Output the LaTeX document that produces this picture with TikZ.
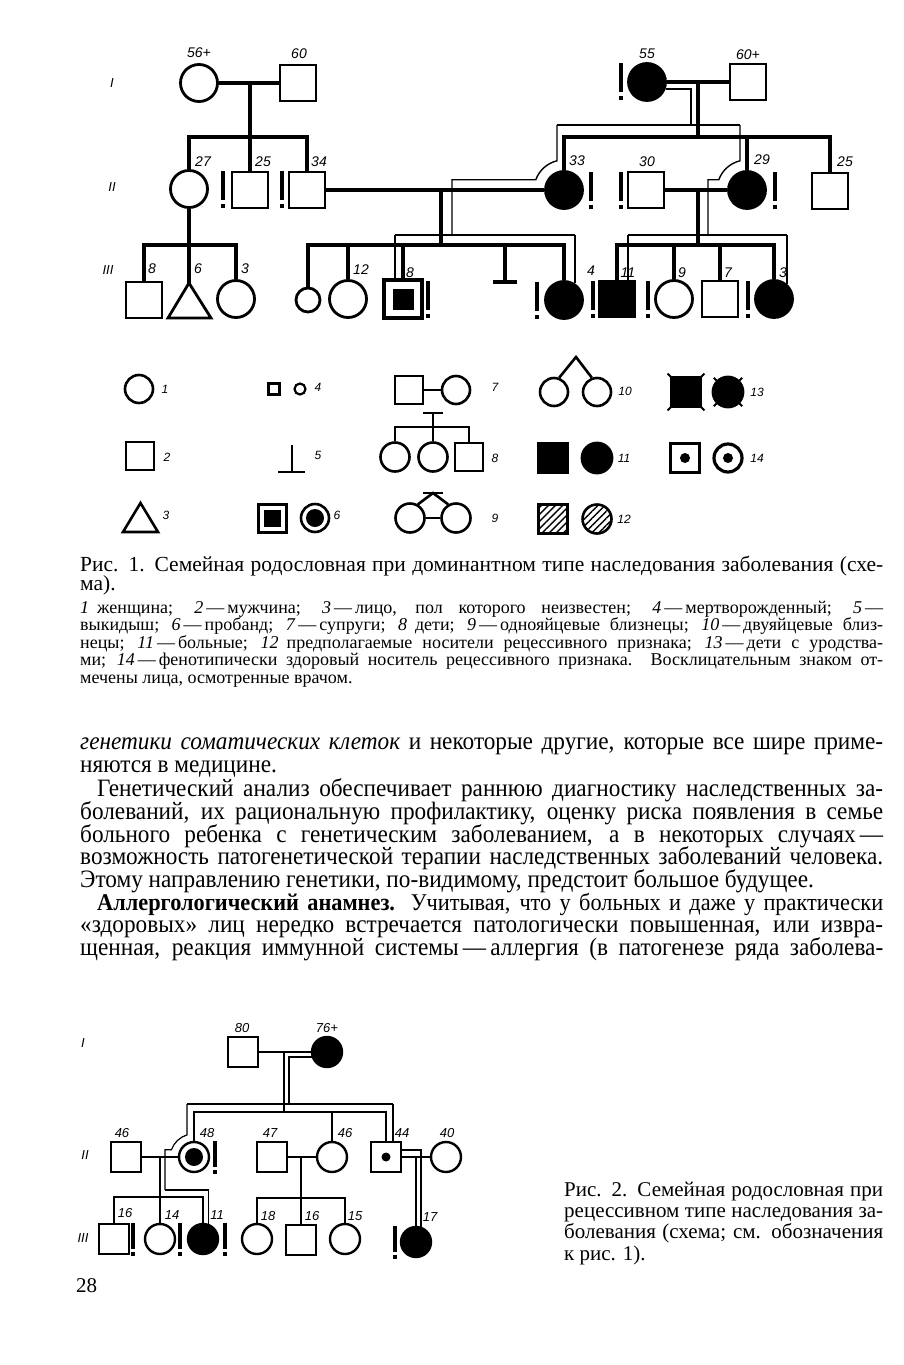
\documentclass[tikz,border=0pt]{standalone}
\usepackage{fontspec}
\setmainfont{Liberation Serif}
\newfontfamily\numfont{Liberation Sans}
\newfontfamily\bodyfont[FakeStretch=0.93]{Liberation Serif}
\usetikzlibrary{patterns.meta}

\begin{document}
\begin{tikzpicture}[x=1pt,y=-1pt,
  fem/.style={circle,draw,line width=2.8pt,minimum size=37pt,inner sep=0pt},
  mal/.style={rectangle,draw,line width=2.8pt,minimum size=36pt,inner sep=0pt},
  ill/.style={fill=black},
  blob/.style={circle,fill=black,inner sep=0pt,minimum size=#1},
  ln/.style={line width=3.4pt},
  trail/.style={line width=1.4pt},
  fem2/.style={fem,line width=2.4pt,minimum size=30pt},
  mal2/.style={mal,line width=2.4pt,minimum size=30pt},
  ln2/.style={line width=2.8pt},
  trail2/.style={line width=1.2pt},
  lfem/.style={fem,line width=2.6pt,minimum size=28pt},
  lmal/.style={mal,line width=2.6pt,minimum size=28pt},
  lln/.style={line width=2.6pt},
  hatch/.style={pattern={Lines[angle=45,distance=5pt,line width=1.4pt]}},
  num/.style={font=\numfont\itshape\fontsize{14}{14}\selectfont,inner sep=0pt},
  num2/.style={font=\numfont\itshape\fontsize{13}{13}\selectfont,inner sep=0pt},
  lnum/.style={font=\numfont\itshape\fontsize{12}{12}\selectfont,inner sep=0pt},
  gen/.style={font=\numfont\itshape\fontsize{13}{13}\selectfont,inner sep=0pt},
  bodytxt/.style={anchor=base west,inner sep=0pt,font=\bodyfont\fontsize{25}{25}\selectfont},
  capone/.style={anchor=base west,inner sep=0pt,font=\fontsize{21.5}{21.5}\selectfont},
  legtxt/.style={anchor=base west,inner sep=0pt,font=\fontsize{18}{18}\selectfont},
  captwo/.style={anchor=base west,inner sep=0pt,font=\fontsize{21}{21}\selectfont},
  excl/.pic={\draw[line width=3.2pt] (0,0) -- (0,29); \draw[line width=3.2pt] (0,33) -- (0,37);},
]
\fill[white] (0,0) rectangle (903,1365);
\useasboundingbox (0,0) rectangle (903,1365);

% Fig. 1
\node[gen] (g1) at (112,83) {I};
\node[gen] (g2) at (112,187) {II};
\node[gen] (g3) at (108,270) {III};

\node[fem] (p56) at (199,83) {};
\node[mal] (p60) at (298,83) {};
\node[fem,ill] (p55) at (647,82) {};
\node[mal] (p60b) at (748,82) {};

\node[fem] (p27) at (189,189) {};
\node[mal] (p25) at (250,190) {};
\node[mal] (p34) at (307,190) {};
\node[fem,ill] (p33) at (564,190) {};
\node[mal] (p30) at (646,190) {};
\node[fem,ill] (p29) at (747,190) {};
\node[mal] (p25b) at (830,191) {};

\node[mal] (q8) at (144,300) {};
\coordinate (q6) at (189,283);
\draw[line width=2.8pt,line join=miter] (168,318) -- (q6) -- (211,318) -- cycle;
\node[fem] (q3) at (236,299) {};
\node[fem,minimum size=24pt] (q4) at (308,300) {};
\node[fem] (q12) at (348,299) {};
\node[mal,line width=3.2pt,minimum size=38pt] (q8b) at (403,299) {};
\node[mal,ill,draw=none,minimum size=21pt] (q8c) at (403,299) {};
\coordinate (q5) at (505,282);
\node[fem,ill] (q4b) at (564,300) {};
\node[mal,ill] (q11) at (617,299) {};
\node[fem] (q9) at (674,299) {};
\node[mal] (q7) at (720,299) {};
\node[fem,ill] (q3b) at (774,299) {};

\coordinate (m1) at (250,83);
\coordinate (k1) at (250,137);
\draw[ln] (p56) -- (p60);
\draw[ln] (m1) -- (k1);
\draw[ln] (p27.north) |- (k1) -| (p34.north);
\draw[ln] (k1) -- (p25.north);

\coordinate (k2) at (189,245);
\draw[ln] (p27) -- (k2);
\draw[ln] (q8.north) |- (k2) -| (q3.north);
\draw[ln] (k2) -- (q6);

\coordinate (m2) at (441,190);
\coordinate (k3) at (441,245);
\draw[ln] (p34) -- (p33);
\draw[ln] (m2) -- (k3);
\draw[ln] (q4.north) |- (k3) -| (q4b.north);
\draw[ln] (q12.north) -- (q12.north |- k3);
\draw[ln] (q8b.north) -- (q8b.north |- k3);
\draw[ln] (q5) -- (q5 |- k3);
\draw[ln] ([xshift=-12pt]q5) -- ([xshift=12pt]q5);

\coordinate (m3) at (698,82);
\coordinate (k4) at (698,137);
\draw[ln] (p55) -- (p60b);
\draw[ln] (m3) -- (k4);
\draw[ln] (p33.north) |- (k4) -| (p25b.north);
\draw[ln] (p29.north) -- (p29.north |- k4);

\coordinate (m4) at (698,190);
\coordinate (k5) at (698,245);
\draw[ln] (p30) -- (p29);
\draw[ln] (m4) -- (k5);
\draw[ln] (q11.north) |- (k5) -| (q3b.north);
\draw[ln] (q9.north) -- (q9.north |- k5);
\draw[ln] (q7.north) -- (q7.north |- k5);

% path of the trait
\coordinate (t1) at (691,125);
\coordinate (t2) at (557,125);
\coordinate (t3) at (740,125);
\coordinate (t4) at (452,235);
\coordinate (t5) at (395,235);
\coordinate (t6) at (575,235);
\coordinate (t7) at (708,235);
\coordinate (t8) at (628,235);
\coordinate (t9) at (787,235);
\draw[trail] (p55.-20) -| (t1);
\draw[trail] (t2) -- (t3);
\draw[trail] (t2) -- ++(0,35.8) arc[start angle=-103.5,end angle=-160,radius=30] -| (t4);
\draw[trail] (t5) -- (t6);
\draw[trail] (t5) -- (t5 |- q8b.north);
\draw[trail] (t6) -- (t6 |- q4b.57);
\draw[trail] (t3) -- ++(0,35.8) arc[start angle=-103.5,end angle=-160,radius=30] -| (t7);
\draw[trail] (t8) -- (t9);
\draw[trail] (t8) -- (t8 |- q11.north);
\draw[trail] (t9) -- (t9 |- q3b.50);

\foreach \x/\y in {223/171,282/171,621/63,591/172,621/172,775/172,428/281,537/282,593/281,648/281,748/281}
  \pic at (\x,\y) {excl};

\node[num] (l56) at (199,53) {56+};
\node[num] (l60) at (299,54) {60};
\node[num] (l55) at (647,54) {55};
\node[num] (l60b) at (748,55) {60+};
\node[num] (l27) at (203,162) {27};
\node[num] (l25) at (263,162) {25};
\node[num] (l34) at (319,162) {34};
\node[num] (l33) at (577,161) {33};
\node[num] (l30) at (647,162) {30};
\node[num] (l29) at (762,160) {29};
\node[num] (l25b) at (845,162) {25};
\node[num] (lq8) at (152,269) {8};
\node[num] (lq6) at (198,269) {6};
\node[num] (lq3) at (245,269) {3};
\node[num] (lq12) at (361,270) {12};
\node[num] (lq8b) at (410,273) {8};
\node[num] (lq4) at (591,271) {4};
\node[num] (lq11) at (628,273) {11};
\node[num] (lq9) at (682,273) {9};
\node[num] (lq7) at (728,273) {7};
\node[num] (lq3b) at (783,273) {3};

% legend
\node[lfem] (a1) at (139,389) {};
\node[lnum] (n1) at (165,389) {1};
\node[mal,line width=2.2pt,minimum size=11pt] (a4s) at (274,389) {};
\node[fem,line width=2.2pt,minimum size=11pt] (a4c) at (300,389) {};
\node[lnum] (n4) at (318,387) {4};
\node[lmal] (a7s) at (409,390) {};
\node[lfem] (a7c) at (456,390) {};
\draw[lln] (a7s) -- (a7c);
\node[lnum] (n7) at (495,387) {7};
\node[lfem] (a10a) at (554,392) {};
\node[lfem] (a10b) at (597,392) {};
\coordinate (a10) at (576,357);
\draw[lln] (a10a.70) -- (a10) -- (a10b.110);
\node[lnum] (n10) at (625,391) {10};
\node[mal,ill,minimum size=30pt] (a13s) at (686,392) {};
\node[fem,ill,minimum size=30pt] (a13c) at (728,392) {};
\foreach \a in {45,135,225,315} {
  \draw[line width=2pt] (a13s.center) ++(-\a:18) -- ++(-\a:8);
  \draw[line width=2pt] (a13c.center) ++(-\a:12) -- ++(-\a:8);
}
\node[lnum] (n13) at (757,392) {13};

\node[lmal] (a2) at (140,456) {};
\node[lnum] (n2) at (167,457) {2};
\coordinate (a5) at (292,472);
\draw[lln] (a5) -- ++(0,-27);
\draw[lln] ([xshift=-14pt]a5) -- ([xshift=13pt]a5);
\node[lnum] (n5) at (318,455) {5};
\node[lfem,minimum size=29pt] (a8a) at (395,457) {};
\node[lfem,minimum size=29pt] (a8b) at (433,457) {};
\node[lmal] (a8c) at (469,457) {};
\coordinate (a8) at (433,427);
\coordinate (a8t) at (433,413);
\draw[lln] (a8a.north) |- (a8) -| (a8c.north);
\draw[lln] (a8b.north) -- (a8t);
\draw[lln] ([xshift=-10pt]a8t) -- ([xshift=10pt]a8t);
\node[lnum] (n8) at (495,458) {8};
\node[mal,ill,minimum size=30pt] (a11s) at (553,458) {};
\node[fem,ill,minimum size=30pt] (a11c) at (597,458) {};
\node[lnum] (n11) at (624,458) {11};
\node[mal,line width=2.6pt,minimum size=29pt] (a14s) at (685,458) {};
\node[blob=10pt] (a14sd) at (a14s) {};
\node[fem,line width=3.2pt,minimum size=28pt] (a14c) at (728,458) {};
\node[blob=10pt] (a14cd) at (a14c) {};
\node[lnum] (n14) at (757,458) {14};

\coordinate (a3) at (140.5,503);
\draw[lln,line join=miter] (123,532) -- (a3) -- (158,532) -- cycle;
\node[lnum] (n3) at (166,515) {3};
\node[mal,line width=3pt,minimum size=28pt] (a6s) at (272,518) {};
\node[mal,ill,draw=none,minimum size=17pt] (a6si) at (a6s) {};
\node[fem,line width=2.6pt,minimum size=28pt] (a6c) at (315,518) {};
\node[blob=18pt] (a6ci) at (a6c) {};
\node[lnum] (n6) at (337,515) {6};
\node[lfem,minimum size=29pt] (a9a) at (410,518) {};
\node[lfem,minimum size=29pt] (a9b) at (456,518) {};
\coordinate (a9) at (433,493);
\draw[lln] (a9a) -- (a9b);
\draw[lln] (a9a.60) -- (a9) -- (a9b.120);
\draw[lln] ([xshift=-10pt]a9) -- ([xshift=10pt]a9);
\node[lnum] (n9) at (495,518) {9};
\node[mal,hatch,line width=2.6pt,minimum size=29pt] (a12s) at (553,519) {};
\node[fem,hatch,line width=2.6pt,minimum size=29pt] (a12c) at (597,519) {};
\node[lnum] (n12) at (624,519) {12};

% caption 1
\node[capone] (c1a) at (80,571) {\makebox[803pt][s]{Рис. 1. Семейная родословная при доминантном типе наследования заболевания (схе-}};
\node[capone] (c1b) at (80,590) {ма).};
\node[legtxt] (c1c) at (80,613) {\makebox[803pt][s]{\textit{1}\hspace{8pt}женщина; \textit{2}\,—\,мужчина; \textit{3}\,—\,лицо, пол которого неизвестен; \textit{4}\,—\,мертворожденный; \textit{5}\,—}};
\node[legtxt] (c1d) at (80,630) {\makebox[803pt][s]{выкидыш; \textit{6}\,—\,пробанд; \textit{7}\,—\,супруги; \textit{8}\hspace{8pt}дети; \textit{9}\,—\,однояйцевые близнецы; \textit{10}\,—\,двуяйцевые близ-}};
\node[legtxt] (c1e) at (80,648) {\makebox[803pt][s]{нецы; \textit{11}\,—\,больные; \textit{12}\hspace{8pt}предполагаемые носители рецессивного признака; \textit{13}\,—\,дети с уродства-}};
\node[legtxt] (c1f) at (80,665) {\makebox[803pt][s]{ми; \textit{14}\,—\,фенотипически здоровый носитель рецессивного признака. Восклицательным знаком от-}};
\node[legtxt] (c1g) at (80,683) {мечены лица, осмотренные врачом.};

% body text
\node[bodytxt] (b1) at (80,749) {\makebox[803pt][s]{\textit{генетики соматических клеток} и некоторые другие, которые все шире приме-}};
\node[bodytxt] (b2) at (80,772) {няются в медицине.};
\node[bodytxt] (b3) at (80,796) {\makebox[803pt][s]{\hspace*{17pt}Генетический анализ обеспечивает раннюю диагностику наследственных за-}};
\node[bodytxt] (b4) at (80,819) {\makebox[803pt][s]{болеваний, их рациональную профилактику, оценку риска появления в семье}};
\node[bodytxt] (b5) at (80,842) {\makebox[803pt][s]{больного ребенка с генетическим заболеванием, а в некоторых случаях\,—}};
\node[bodytxt] (b6) at (80,864) {\makebox[803pt][s]{возможность патогенетической терапии наследственных заболеваний человека.}};
\node[bodytxt] (b7) at (80,887) {Этому направлению генетики, по-видимому, предстоит большое будущее.};
\node[bodytxt,font=\bodyfont\fontsize{24}{24}\selectfont] (b8) at (80,910) {\makebox[803pt][s]{\hspace*{17pt}\textbf{Аллергологический анамнез.} Учитывая, что у больных и даже у практически}};
\node[bodytxt] (b9) at (80,932) {\makebox[803pt][s]{«здоровых» лиц нередко встречается патологически повышенная, или извра-}};
\node[bodytxt] (b10) at (80,955) {\makebox[803pt][s]{щенная, реакция иммунной системы\,—\,аллергия (в патогенезе ряда заболева-}};

% Fig. 2
\node[gen] (h1) at (83,1043) {I};
\node[gen] (h2) at (85,1155) {II};
\node[gen] (h3) at (83,1238) {III};

\node[mal2] (r80) at (243,1052) {};
\node[fem2,ill] (r76) at (327,1052) {};
\node[mal2] (r46) at (126,1157) {};
\node[fem2] (r48) at (194,1157) {};
\node[blob=18pt] (r48i) at (r48) {};
\node[mal2] (r47) at (272,1157) {};
\node[fem2] (r46b) at (332,1157) {};
\node[mal2] (r44) at (386,1157) {};
\node[blob=9pt] (r44i) at (r44) {};
\node[fem2] (r40) at (446,1157) {};

\node[mal2] (u16) at (114,1239) {};
\node[fem2] (u14) at (160,1239) {};
\node[fem2,ill] (u11) at (203,1239) {};
\node[fem2] (u18) at (257,1239) {};
\node[mal2] (u16b) at (301,1240) {};
\node[fem2] (u15) at (345,1239) {};
\node[fem2,ill] (u17) at (416,1242) {};

\coordinate (m5) at (284,1052);
\coordinate (k6) at (284,1112);
\draw[ln2] (r80) -- (r76);
\draw[ln2] (m5) -- (k6);
\draw[ln2] (r48.north) |- (k6) -| (r44.north);
\draw[line width=1.8pt] (r46b.north) -- (r46b.north |- k6);

\coordinate (m6) at (160,1157);
\coordinate (k7) at (160,1197);
\draw[ln2] (r46) -- (r48);
\draw[ln2] (m6) -- (k7);
\draw[ln2] (u16.north) |- (k7) -| (u11.north);
\draw[ln2] (k7) -- (u14.north);

\coordinate (m7) at (301,1157);
\coordinate (k8) at (301,1198);
\draw[ln2] (r47) -- (r46b);
\draw[ln2] (m7) -- (k8);
\draw[ln2] (u18.north) |- (k8) -| (u15.north);
\draw[ln2] (k8) -- (u16b.north);

\coordinate (m8) at (416,1157);
\draw[ln2] (r44) -- (r40);
\draw[ln2] (m8) -- (u17.north);

\coordinate (v1) at (289,1104);
\coordinate (v2) at (187,1104);
\coordinate (v3) at (393,1104);
\coordinate (v4) at (165,1190);
\coordinate (v5) at (421,1150);
\draw[trail2] (r76.198) -| (v1);
\draw[trail2] (v2) -- (v3);
\draw[trail2] (v2) -- ++(0,30.9) arc[start angle=-107,end angle=-160,radius=24] -| (v4);
\draw[trail2] (v4) -| (u11.71);
\draw[trail2] (v3) -- (v3 |- r44.north);
\draw[trail2] (r44.east |- v5) -- (v5) -- (v5 |- u17.71);

\foreach \x/\y in {215/1141,133/1223,180/1223,225/1223,395/1226}
  \pic[scale=0.88] at (\x,\y) {excl};

\node[num2] (o80) at (242,1028) {80};
\node[num2] (o76) at (327,1028) {76+};
\node[num2] (o46) at (122,1133) {46};
\node[num2] (o48) at (207,1133) {48};
\node[num2] (o47) at (270,1133) {47};
\node[num2] (o46b) at (345,1133) {46};
\node[num2] (o44) at (402,1133) {44};
\node[num2] (o40) at (447,1133) {40};
\node[num2] (o16) at (125,1213) {16};
\node[num2] (o14) at (172,1215) {14};
\node[num2] (o11) at (217,1215) {11};
\node[num2] (o18) at (268,1216) {18};
\node[num2] (o16b) at (312,1216) {16};
\node[num2] (o15) at (355,1216) {15};
\node[num2] (o17) at (430,1217) {17};

% caption 2
\node[captwo] (d1) at (564,1196) {\makebox[319pt][s]{Рис. 2. Семейная родословная при}};
\node[captwo] (d2) at (564,1217) {\makebox[319pt][s]{рецессивном типе наследования за-}};
\node[captwo] (d3) at (564,1238) {\makebox[319pt][s]{болевания (схема; см. обозначения}};
\node[captwo] (d4) at (564,1260) {к рис. 1).};

\node[captwo] (pg) at (76,1292) {28};
\end{tikzpicture}
\end{document}
